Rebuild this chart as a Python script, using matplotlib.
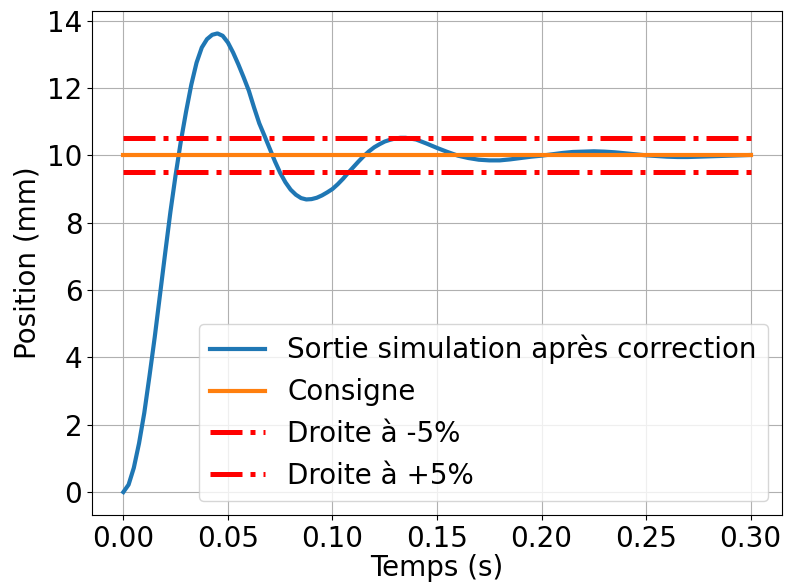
import matplotlib
matplotlib.use("Agg")
import matplotlib.pyplot as plt

# Time samples (s) and simulated output (mm)
t_sim = [0.0, 0.0025, 0.005, 0.0075, 0.01, 0.0125, 0.015, 0.0175, 0.02, 0.0225,
         0.025, 0.0275, 0.03, 0.0325, 0.035, 0.0375, 0.04, 0.0425, 0.045, 0.0475,
         0.05, 0.0525, 0.055, 0.0575, 0.06, 0.0625, 0.065, 0.0675, 0.07, 0.0725,
         0.075, 0.0775, 0.08, 0.0825, 0.085, 0.0875, 0.09, 0.0925, 0.095, 0.0975,
         0.1, 0.1025, 0.105, 0.1075, 0.11, 0.1125, 0.115, 0.1175, 0.12, 0.1225,
         0.125, 0.1275, 0.13, 0.1325, 0.135, 0.14, 0.145, 0.15, 0.155, 0.16,
         0.165, 0.17, 0.175, 0.18, 0.185, 0.19, 0.195, 0.2, 0.205, 0.21,
         0.215, 0.22, 0.225, 0.23, 0.235, 0.24, 0.245, 0.25, 0.255, 0.26,
         0.265, 0.27, 0.275, 0.28, 0.285, 0.29, 0.295, 0.3]
y_sim = [0.0, 0.22, 0.72, 1.45, 2.35, 3.45, 4.6, 5.85, 7.1, 8.32,
         9.42, 10.42, 11.3, 12.1, 12.75, 13.2, 13.45, 13.58, 13.62, 13.55,
         13.35, 13.05, 12.7, 12.32, 11.92, 11.42, 10.95, 10.58, 10.2, 9.82,
         9.48, 9.2, 8.98, 8.83, 8.73, 8.69, 8.7, 8.74, 8.81, 8.9,
         9.0, 9.14, 9.3, 9.48, 9.65, 9.82, 9.98, 10.12, 10.24, 10.33,
         10.41, 10.46, 10.5, 10.52, 10.52, 10.47, 10.35, 10.22, 10.1, 9.99,
         9.92, 9.87, 9.85, 9.85, 9.88, 9.92, 9.96, 9.99, 10.03, 10.07,
         10.1, 10.11, 10.12, 10.11, 10.09, 10.06, 10.03, 10.0, 9.98, 9.96,
         9.95, 9.95, 9.96, 9.97, 9.98, 9.99, 10.0, 10.01]

t_ref = [0.0, 0.3]
consigne = [10.0, 10.0]
droite_m5 = [9.5, 9.5]
droite_p5 = [10.5, 10.5]

xticks = [0.0, 0.05, 0.10, 0.15, 0.20, 0.25, 0.30]
yticks = [0, 2, 4, 6, 8, 10, 12, 14]

fs = 20
fig = plt.figure(figsize=(7.85, 5.84), dpi=100)
ax = fig.add_axes([92 / 785, 1 - 515 / 584, (782 - 92) / 785, (515 - 10.5) / 584])

ax.plot(t_sim, y_sim, color="#1f77b4", lw=3, label="Sortie simulation après correction")
ax.plot(t_ref, consigne, color="#ff7f0e", lw=3, label="Consigne")
ax.plot(t_ref, droite_m5, color="red", lw=3.6, ls="-.", label="Droite à -5%")
ax.plot(t_ref, droite_p5, color="red", lw=3.6, ls="-.", label="Droite à +5%")

ax.set_xticks(xticks)
ax.set_xticklabels([f"{v:.2f}" for v in xticks])
ax.set_yticks(yticks)
ax.tick_params(labelsize=fs)
ax.set_xlabel("Temps (s)", fontsize=fs, labelpad=1)
ax.set_ylabel("Position (mm)", fontsize=fs)
ax.grid(True)
ax.legend(loc="lower right", fontsize=fs)

fig.savefig("out.png", dpi=100)
